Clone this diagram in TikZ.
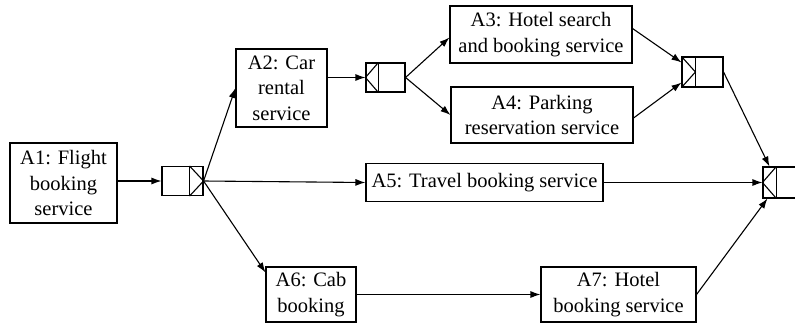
\documentclass[tikz,border=0pt]{standalone}
\usepackage{fontspec}
\setmainfont{Liberation Serif}
\usetikzlibrary{arrows.meta}

\tikzset{
    task/.style={draw, line width=1.1pt, align=center, inner sep=0pt,
        font=\fontsize{20.5}{25.5}\selectfont},
    gate/.style={draw, line width=1.1pt, inner sep=0pt, minimum width=41, minimum height=29},
    gatemark/.style={line width=1.1pt},
    flow/.style={-{Latex[length=10pt,width=7pt]}, line width=1.1pt}
}

\begin{document}
\begin{tikzpicture}[x=1pt, y=-1pt]
        \useasboundingbox (0,0) rectangle (795,324);
        \clip (0,0) rectangle (795,324);

        \draw (63.5,183) node [task, minimum width=107, minimum height=80] (a1) {A1: Flight\\booking\\service};
        \draw (281.5,88) node [task, minimum width=91, minimum height=78] (a2) {A2: Car\\rental\\service};
        \draw (541,34.5) node [task, minimum width=182, minimum height=57] (a3) {A3: Hotel search\\and booking service};
        \draw (542,115) node [task, minimum width=182, minimum height=56] (a4) {A4: Parking\\reservation service};
        \draw (484.5,182.5) node [task, minimum width=237, minimum height=38] (a5) {A5: Travel booking service};
        \draw (311,294.5) node [task, minimum width=90, minimum height=55] (a6) {A6: Cab\\booking};
        \draw (618.5,294.5) node [task, minimum width=155, minimum height=55] (a7) {A7: Hotel\\booking service};

        \draw (182.5,181) node [gate] (g1) {};
        \draw (385.5,77.5) node [gate, minimum width=39] (g2) {};
        \draw (702.5,72) node [gate, minimum height=30] (g3) {};
        \draw (783.5,182.5) node [gate, minimum height=31] (g4) {};

        % split / join marks
        \draw[gatemark] ([xshift=-14]g1.north east) -- ([xshift=-14]g1.south east);
        \draw[gatemark] ([xshift=-14]g1.north east) -- (g1.east) -- ([xshift=-14]g1.south east);
        \draw[gatemark] ([xshift=13]g2.north west) -- ([xshift=13]g2.south west);
        \draw[gatemark] ([xshift=13]g2.north west) -- (g2.west) -- ([xshift=13]g2.south west);
        \draw[gatemark] ([xshift=14]g3.north west) -- ([xshift=14]g3.south west);
        \draw[gatemark] (g3.north west) -- ([xshift=14]g3.west) -- (g3.south west);
        \draw[gatemark] ([xshift=14]g4.north west) -- ([xshift=14]g4.south west);
        \draw[gatemark] ([xshift=14]g4.north west) -- (g4.west) -- ([xshift=14]g4.south west);

        \draw[flow] (a1.east |- g1.west) -- (g1.west);
        \draw[flow] (g1.east) -- (a2.west);
        \draw[flow] (g1.east) -- (a5.west);
        \draw[flow] (g1.east) -- ([yshift=-6]a6.north west);
        \draw[flow] (a2.east |- g2.west) -- (g2.west);
        \draw[flow] (g2.east) -- ([yshift=-3]a3.west);
        \draw[flow] (g2.east) -- (a4.west);
        \draw[flow] ([yshift=6]a3.east) -- ([yshift=-6]g3.north west);
        \draw[flow] ([yshift=-3]a4.east) -- ([yshift=5]g3.south west);
        \draw[flow] (g3.east) -- ([xshift=7]g4.north west);
        \draw[flow] (a5.east) -- (g4.west);
        \draw[flow] (a6.east) -- (a7.west);
        \draw[flow] (a7.east) -- ([xshift=5]g4.south west);
    \end{tikzpicture}
\end{document}
